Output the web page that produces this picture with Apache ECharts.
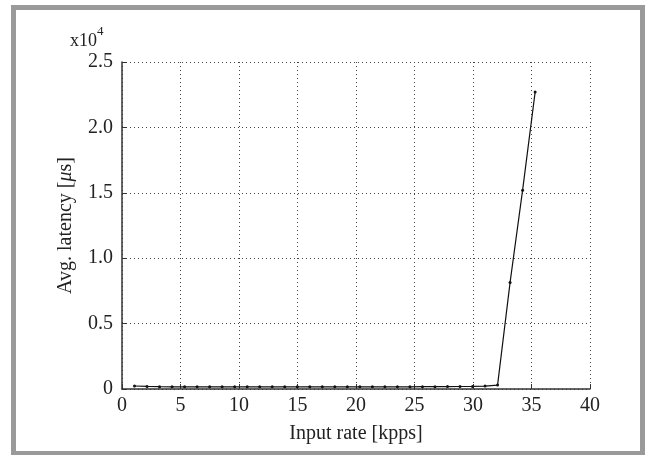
<!DOCTYPE html>
<html><head><meta charset="utf-8">
<script src="https://cdn.jsdelivr.net/npm/echarts@6/dist/echarts.min.js"></script>
<style>html,body{margin:0;padding:0;background:#fff;}#c{width:646px;height:455px;}</style>
</head><body><div id="c"></div>
<script>
const inputRate = [1.07,2.14,3.21,4.28,5.35,6.42,7.49,8.56,9.63,10.70,11.77,12.84,13.91,14.98,16.05,17.12,18.19,19.26,20.33,21.40,22.47,23.54,24.61,25.68,26.75,27.82,28.89,29.96,31.03,32.10,33.17,34.24,35.31];
const latency = [230,200,180,170,165,165,165,165,165,165,165,165,165,165,165,165,165,165,165,170,170,170,170,175,180,185,190,200,220,300,8150,15200,22700];
const xTicks = [0,5,10,15,20,25,30,35,40];
const yTickLabels = {0:'0',5000:'0.5',10000:'1.0',15000:'1.5',20000:'2.0',25000:'2.5'};
const font = 'Liberation Serif';
const chart = echarts.init(document.getElementById('c'), null, {renderer:'canvas'});
chart.setOption({
  animation:false,
  backgroundColor:'#fff',
  graphic:[
    {type:'rect', shape:{x:13.5,y:7.5,width:629,height:446}, style:{fill:'none',stroke:'#9a9a9a',lineWidth:5}, z:100},
    {type:'text', left:70, top:25, style:{text:'{a|x10}{b|4}', rich:{a:{fontFamily:font,fontSize:18,fill:'#222',verticalAlign:'bottom'},b:{fontFamily:font,fontSize:13,fill:'#222',verticalAlign:'top',padding:[0,0,12,0]}}}}
  ],
  grid:{left:122,right:56,top:62,bottom:66,containLabel:false},
  xAxis:{type:'value',min:0,max:40,interval:5,
    name:'Input rate [kpps]',nameLocation:'middle',nameGap:35,
    nameTextStyle:{fontFamily:font,fontSize:20,color:'#222'},
    axisLine:{show:true,onZero:false,lineStyle:{color:'#333',width:1.5}},
    axisTick:{show:true,inside:true,length:5,lineStyle:{color:'#333'}},
    axisLabel:{fontFamily:font,fontSize:20,color:'#222',margin:7,formatter:v=>xTicks.includes(v)?String(v):''},
    splitLine:{show:true,lineStyle:{color:'#444',type:[1,3],width:1}}
  },
  yAxis:{type:'value',min:0,max:25000,interval:5000,
    name:'Avg. latency [{i|μ}s]',nameLocation:'middle',nameGap:46,
    nameTextStyle:{fontFamily:font,fontSize:20,color:'#222',rich:{i:{fontFamily:font,fontSize:20,fontStyle:'italic',color:'#222'}}},
    axisLine:{show:true,lineStyle:{color:'#333',width:1.5}},
    axisTick:{show:true,inside:true,length:5,lineStyle:{color:'#333'}},
    axisLabel:{fontFamily:font,fontSize:20,color:'#222',margin:9,formatter:v=>yTickLabels[v]!==undefined?yTickLabels[v]:''},
    splitLine:{show:true,lineStyle:{color:'#444',type:[1,3],width:1}}
  },
  series:[{type:'line',data:inputRate.map((x,i)=>[x,latency[i]]),
    symbol:'circle',symbolSize:3,showSymbol:true,
    lineStyle:{color:'#111',width:1.2},itemStyle:{color:'#111'}
  }]
});
</script></body></html>
